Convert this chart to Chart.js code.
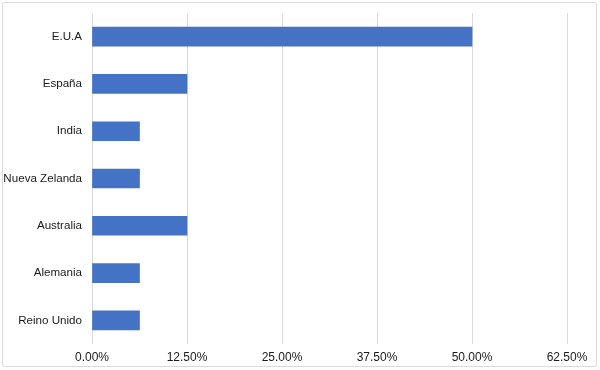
<!DOCTYPE html>
<html>
<head>
<meta charset="utf-8">
<script src="https://cdn.jsdelivr.net/npm/chart.js@4/dist/chart.umd.min.js"></script>
<style>
    html, body { margin: 0; padding: 0; background: #fff; }
    #wrap { position: relative; width: 600px; height: 370px; }
    #frame {
        position: absolute; left: 2px; top: 2px; width: 593px; height: 363px;
        border: 1px solid #d9d9d9; border-radius: 3px; pointer-events: none;
    }
</style>
</head>
<body>
<div id="wrap">
    <canvas id="chart" width="600" height="370"></canvas>
    <div id="frame"></div>
</div>
<script>
// Data
const countries = ['E.U.A', 'España', 'India', 'Nueva Zelanda', 'Australia', 'Alemania', 'Reino Unido'];
const shares = [50, 12.5, 6.25, 6.25, 12.5, 6.25, 6.25];
const tickStep = 12.5;
const tickMax = 62.5;

const gridColor = '#d9d9d9';
const textColor = '#1a1a1a';
const barColor = '#4472c4';
const fontFamily = "'Liberation Sans', Arial, Helvetica, sans-serif";

const ctx = document.getElementById('chart').getContext('2d');
new Chart(ctx, {
    type: 'bar',
    data: {
        labels: countries,
        datasets: [{
            data: shares,
            backgroundColor: barColor,
            borderWidth: 0,
            barThickness: 19
        }]
    },
    options: {
        indexAxis: 'y',
        responsive: false,
        animation: false,
        layout: {
            padding: { top: 13, right: 33, bottom: 4, left: 0 }
        },
        plugins: {
            legend: { display: false },
            tooltip: { enabled: false }
        },
        scales: {
            x: {
                min: 0,
                max: tickMax,
                ticks: {
                    stepSize: tickStep,
                    padding: 6,
                    color: textColor,
                    font: { family: fontFamily, size: 12 },
                    callback: (value) => value.toFixed(2) + '%'
                },
                grid: {
                    color: gridColor,
                    lineWidth: 1,
                    drawTicks: false
                },
                border: { display: false },
                afterFit: (scale) => {
                    scale.height = 22;
                    scale.paddingLeft = 0;
                    scale.paddingRight = 0;
                }
            },
            y: {
                ticks: {
                    padding: 10,
                    color: textColor,
                    font: { family: fontFamily, size: 11.6 }
                },
                grid: { display: false, drawTicks: false },
                border: { display: false },
                afterFit: (scale) => {
                    scale.width = 92;
                    scale.paddingTop = 0;
                    scale.paddingBottom = 0;
                }
            }
        }
    }
});
</script>
</body>
</html>
